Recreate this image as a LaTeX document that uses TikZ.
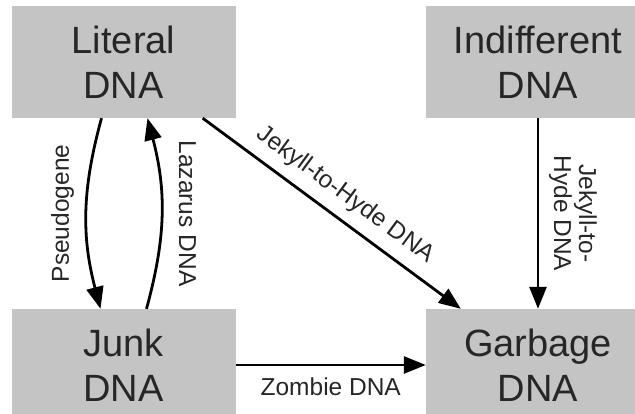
\documentclass[tikz,border=0pt]{standalone}
\usepackage{fontspec}
\setmainfont{Liberation Sans}
\usetikzlibrary{arrows.meta}
\definecolor{boxgray}{gray}{0.77}

\begin{document}
\begin{tikzpicture}[x=1pt,y=1pt]
	\tikzstyle{box}=[fill=boxgray,minimum width=224pt,minimum height=112pt,inner sep=0pt,align=center,text=black!85,font=\fontsize{38}{45}\selectfont]
	\tikzstyle{link}=[line width=2.8pt,-{Triangle[length=22pt,width=17pt]}]
	\tikzstyle{lab}=[text=black!85,align=center,inner sep=2pt,font=\fontsize{24.5}{25}\selectfont]
	\useasboundingbox (0,0) rectangle (635,414);
	\clip (0,0) rectangle (635,414);
	\node[box] (literal) at (123.5,352) {Literal\\DNA};
	\node[box] (indiff) at (538,352) {Indifferent\\DNA};
	\node[box] (junk) at (123.5,49) {Junk\\DNA};
	\node[box] (garbage) at (538,49) {Garbage\\DNA};
	% between literal and junk
	\draw[link] ([xshift=-22pt]literal.south) to[bend right=15] node[lab,midway,xshift=-24pt,rotate=90] {Pseudogene} ([xshift=-23pt]junk.north);
	\draw[link] ([xshift=23pt]junk.north) to[bend right=15] node[lab,midway,xshift=26pt,rotate=-90] {Lazarus DNA} ([xshift=24pt]literal.south);
	% into garbage
	\draw[link] ([xshift=-33pt]literal.south east) -- node[lab,midway,sloped,above=8pt] {Jekyll-to-Hyde DNA} ([xshift=35pt]garbage.north west);
	\draw[link] (indiff.south) -- node[lab,midway,xshift=35pt,rotate=-90] {Jekyll-to-\\Hyde DNA} (garbage.north);
	\draw[link] (junk.east) -- node[lab,midway,below=9pt] {Zombie DNA} (garbage.west);
\end{tikzpicture}
\end{document}
